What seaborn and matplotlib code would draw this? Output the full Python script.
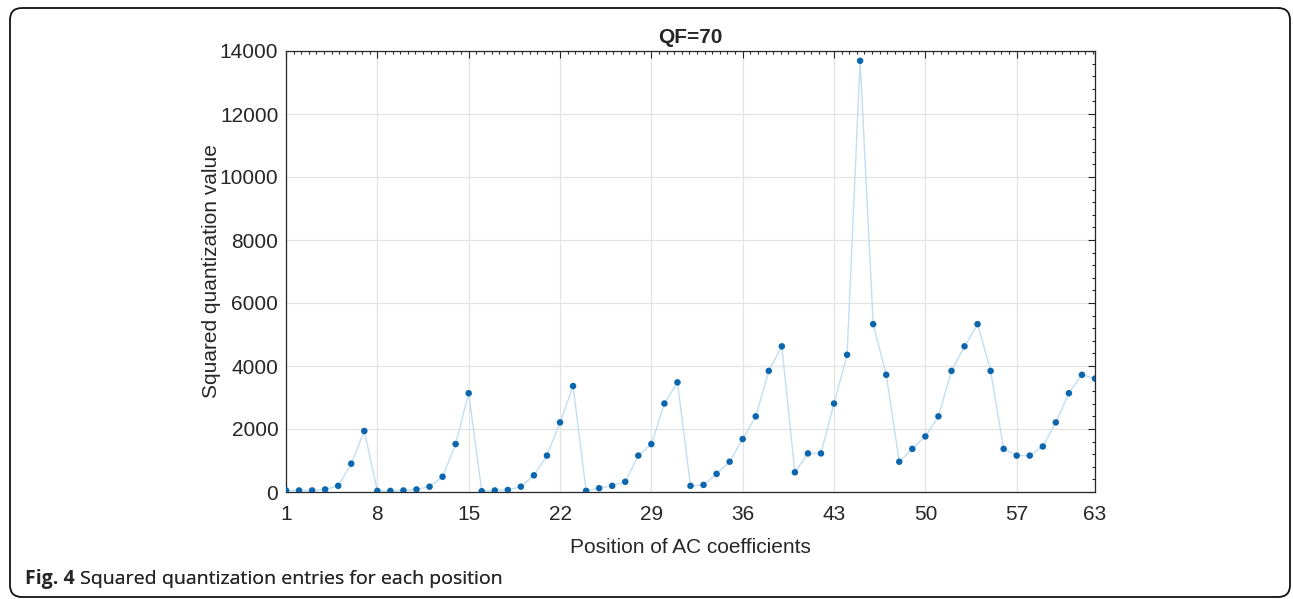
import numpy as np
import pandas as pd
import matplotlib
matplotlib.use('Agg')
import matplotlib.pyplot as plt
import seaborn as sns
from matplotlib.patches import FancyBboxPatch
from matplotlib.transforms import IdentityTransform

# Data: squared quantization value at each AC position
positions = np.arange(1, 64)
sq_values = [
    49, 49, 49, 81, 196, 900, 1936, 36, 36, 49,
    81, 169, 484, 1521, 3136, 25, 49, 64, 169, 529,
    1156, 2209, 3364, 36, 121, 196, 324, 1156, 1521, 2809,
    3481, 196, 225, 576, 961, 1681, 2401, 3844, 4624, 625,
    1225, 1225, 2809, 4356, 13689, 5329, 3721, 961, 1369, 1764,
    2401, 3844, 4624, 5329, 3844, 1369, 1156, 1156, 1444, 2209,
    3136, 3721, 3600,
]
x_ticks = [1, 8, 15, 22, 29, 36, 43, 50, 57, 63]
y_ticks = [0, 2000, 4000, 6000, 8000, 10000, 12000, 14000]

df = pd.DataFrame({'pos': positions, 'value': sq_values})

sns.set_style('white')
plt.rcParams['font.family'] = ['Liberation Sans', 'DejaVu Sans']

fig = plt.figure(figsize=(12.93, 5.99), dpi=100)
ax = fig.add_axes([286 / 1293, 1 - 492 / 599, 809 / 1293, 441 / 599])

sns.lineplot(data=df, x='pos', y='value', ax=ax, color='#c2def0', linewidth=1.0, zorder=2)
sns.scatterplot(data=df, x='pos', y='value', ax=ax, color='#0b66ad', s=22,
                edgecolor='none', zorder=3)

ax.set_xlim(1, 63)
ax.set_ylim(0, 14000)
ax.set_xticks(x_ticks)
ax.set_yticks(y_ticks)
ax.set_xticks(np.arange(1, 63.01, 7 / 12), minor=True)
ax.set_yticks(np.arange(0, 14001, 400), minor=True)

ax.grid(True, which='major', color='#e3e3e3', linewidth=0.9)
ax.set_axisbelow(True)

for s in ax.spines.values():
    s.set_color('#262626')
    s.set_linewidth(0.9)

ax.tick_params(which='both', direction='in', top=True, right=True,
               colors='#262626', labelsize=15, width=0.8)
ax.tick_params(which='major', length=5)
ax.tick_params(which='minor', length=2.5)
ax.tick_params(axis='x', which='major', pad=9)
ax.tick_params(axis='y', which='major', pad=5.5)

ax.set_title('QF=70', fontsize=15, fontweight='bold', color='#262626', pad=6)
ax.set_xlabel('Position of AC coefficients', fontsize=15, color='#262626')
ax.set_ylabel('Squared quantization value', fontsize=15, color='#262626')
ax.xaxis.set_label_coords(0.5, -0.104)
ax.yaxis.set_label_coords(-0.080, 0.5)

# Caption and frame
t1 = fig.text(25 / 1293, 1 - 579 / 599, 'Fig. 4', fontsize=14, fontweight='bold',
              family=['Open Sans', 'DejaVu Sans'], va='center', ha='left')
fig.add_artist(plt.annotate(' Squared quantization entries for each position',
                            xy=(1, 0.5), xycoords=t1, va='center', ha='left',
                            fontsize=14, family=['Open Sans', 'DejaVu Sans']))

frame = FancyBboxPatch((10, 2), 1280, 589, boxstyle='round,pad=0,rounding_size=12',
                       transform=IdentityTransform(), facecolor='none',
                       edgecolor='#111111', linewidth=1.3)
fig.add_artist(frame)

fig.savefig('out.png', dpi=100)
